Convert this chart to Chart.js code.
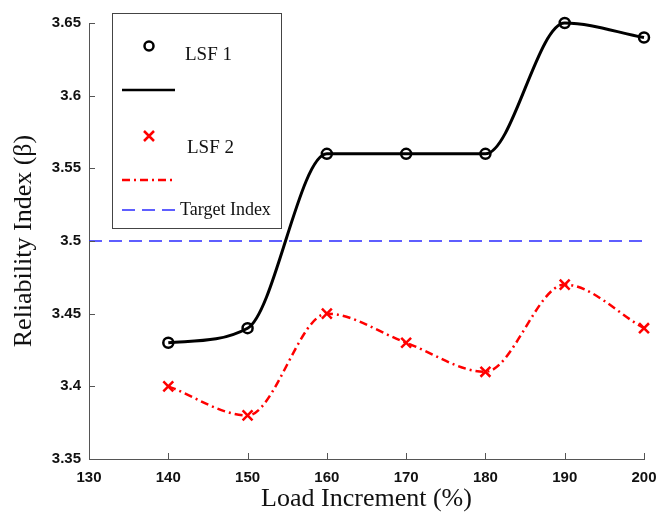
<!DOCTYPE html>
<html lang="en">
<head>
<meta charset="UTF-8">
<title>Reliability Index vs Load Increment</title>
<script src="https://cdn.jsdelivr.net/npm/chart.js"></script>
<style>
  html, body { margin: 0; padding: 0; background: #fff; }
  canvas { display: block; }
</style>
</head>
<body>
<canvas id="reliabilityChart" width="656" height="512"></canvas>
<script>
// data
const loadIncrement = [140, 150, 160, 170, 180, 190, 200];
const lsf1 = [3.43, 3.44, 3.56, 3.56, 3.56, 3.65, 3.64];
const lsf2 = [3.40, 3.38, 3.45, 3.43, 3.41, 3.47, 3.44];
const targetX = [130, 200];
const targetIndex = [3.5, 3.5];
const xTicks = [130, 140, 150, 160, 170, 180, 190, 200];
const yTicks = [3.35, 3.4, 3.45, 3.5, 3.55, 3.6, 3.65];

function toPoints(xs, ys) {
    return xs.map((x, i) => ({ x: x, y: ys[i] }));
}

const SERIF = '"Liberation Serif", "Times New Roman", serif';
const SANS = '"Liberation Sans", Arial, sans-serif';
const RED_DASHDOT = [8, 4, 2, 4];
const BLUE_DASH = [13, 7];

// small tick marks pointing into the plot, like the original
const innerTicks = {
    id: 'innerTicks',
    afterDraw(chart) {
        const ctx = chart.ctx;
        const area = chart.chartArea;
        const x = chart.scales.x, y = chart.scales.y;
        ctx.save();
        ctx.strokeStyle = '#555';
        ctx.lineWidth = 1;
        ctx.beginPath();
        x.ticks.forEach(t => {
            const px = Math.round(x.getPixelForValue(t.value)) + 0.5;
            ctx.moveTo(px, area.bottom);
            ctx.lineTo(px, area.bottom - 6);
        });
        y.ticks.forEach(t => {
            const py = Math.round(y.getPixelForValue(t.value)) + 0.5;
            ctx.moveTo(area.left, py);
            ctx.lineTo(area.left + 6, py);
        });
        ctx.stroke();
        ctx.restore();
    }
};

// matlab style boxed legend (markers and lines as separate rows)
const boxLegend = {
    id: 'boxLegend',
    afterDraw(chart) {
        const ctx = chart.ctx;
        const bx = 112, by = 13, bw = 169, bh = 215;
        ctx.save();
        ctx.fillStyle = '#fff';
        ctx.fillRect(bx, by, bw, bh);
        ctx.strokeStyle = '#444';
        ctx.lineWidth = 1;
        ctx.strokeRect(bx + 0.5, by + 0.5, bw, bh);

        // LSF 1 marker
        ctx.strokeStyle = '#000';
        ctx.lineWidth = 2.5;
        ctx.beginPath();
        ctx.arc(bx + 37, by + 33, 4.5, 0, Math.PI * 2);
        ctx.stroke();
        // LSF 1 line
        ctx.lineWidth = 2.5;
        ctx.beginPath();
        ctx.moveTo(bx + 10, by + 77);
        ctx.lineTo(bx + 63, by + 77);
        ctx.stroke();

        // LSF 2 marker
        ctx.strokeStyle = '#ff0000';
        ctx.lineWidth = 2.5;
        ctx.beginPath();
        ctx.moveTo(bx + 32, by + 118);
        ctx.lineTo(bx + 42, by + 128);
        ctx.moveTo(bx + 42, by + 118);
        ctx.lineTo(bx + 32, by + 128);
        ctx.stroke();
        // LSF 2 line
        ctx.setLineDash(RED_DASHDOT);
        ctx.lineWidth = 2.5;
        ctx.beginPath();
        ctx.moveTo(bx + 10, by + 167);
        ctx.lineTo(bx + 63, by + 167);
        ctx.stroke();

        // target line
        ctx.strokeStyle = '#2a2aff';
        ctx.setLineDash(BLUE_DASH);
        ctx.lineWidth = 1.5;
        ctx.beginPath();
        ctx.moveTo(bx + 10, by + 197);
        ctx.lineTo(bx + 63, by + 197);
        ctx.stroke();
        ctx.setLineDash([]);

        ctx.fillStyle = '#111';
        ctx.textBaseline = 'alphabetic';
        ctx.font = '19px ' + SERIF;
        ctx.fillText('LSF 1', bx + 73, by + 47);
        ctx.fillText('LSF 2', bx + 75, by + 140);
        ctx.font = '18px ' + SERIF;
        ctx.fillText('Target Index', bx + 68, by + 202);
        ctx.restore();
    }
};

const ctx = document.getElementById('reliabilityChart').getContext('2d');
const chart = new Chart(ctx, {
    type: 'line',
    data: {
        datasets: [
            {
                label: 'LSF 1',
                data: toPoints(loadIncrement, lsf1),
                borderColor: '#000',
                borderWidth: 3,
                cubicInterpolationMode: 'monotone',
                pointStyle: 'circle',
                pointRadius: 5,
                pointBorderWidth: 2.5,
                pointBorderColor: '#000',
                pointBackgroundColor: 'rgba(255,255,255,0)',
                clip: false,
                fill: false
            },
            {
                label: 'LSF 2',
                data: toPoints(loadIncrement, lsf2),
                borderColor: '#ff0000',
                borderWidth: 2.5,
                borderDash: RED_DASHDOT,
                cubicInterpolationMode: 'monotone',
                pointStyle: 'crossRot',
                pointRadius: 7,
                pointBorderWidth: 2.5,
                pointBorderColor: '#ff0000',
                clip: false,
                fill: false
            },
            {
                label: 'Target Index',
                data: toPoints(targetX, targetIndex),
                borderColor: '#2a2aff',
                borderWidth: 1.5,
                borderDash: BLUE_DASH,
                pointRadius: 0,
                clip: false,
                fill: false
            }
        ]
    },
    options: {
        responsive: false,
        animation: false,
        devicePixelRatio: 1,
        layout: { padding: { top: 23, right: 12, left: 0, bottom: 0 } },
        plugins: {
            legend: { display: false },
            tooltip: { enabled: false }
        },
        scales: {
            x: {
                type: 'linear',
                min: 130,
                max: 200,
                afterBuildTicks: axis => { axis.ticks = xTicks.map(v => ({ value: v })); },
                afterFit: axis => {
                    axis.height = 53;
                    axis.paddingRight = 0;
                    axis.paddingLeft = 0;
                },
                grid: { display: false, drawTicks: false },
                border: { display: true, color: '#555', width: 1 },
                ticks: {
                    autoSkip: false,
                    maxRotation: 0,
                    padding: 10,
                    color: '#111',
                    font: { family: SANS, size: 15, weight: 'bold' },
                    callback: v => String(v)
                },
                title: {
                    display: true,
                    text: 'Load Increment (%)',
                    color: '#111',
                    font: { family: SERIF, size: 26, lineHeight: 1 },
                    padding: { top: 0, bottom: 0 }
                }
            },
            y: {
                min: 3.35,
                max: 3.65,
                afterBuildTicks: axis => { axis.ticks = yTicks.map(v => ({ value: v })); },
                afterFit: axis => { axis.width = 89; },
                grid: { display: false, drawTicks: false },
                border: { display: true, color: '#555', width: 1 },
                ticks: {
                    padding: 8,
                    color: '#111',
                    font: { family: SANS, size: 15, weight: 'bold' },
                    callback: v => String(Number(v.toFixed(2)))
                },
                title: {
                    display: true,
                    text: 'Reliability Index (β)',
                    color: '#111',
                    font: { family: SERIF, size: 26, lineHeight: 1 },
                    padding: { top: 11, bottom: 0 }
                }
            }
        }
    },
    plugins: [innerTicks, boxLegend]
});
</script>
</body>
</html>
